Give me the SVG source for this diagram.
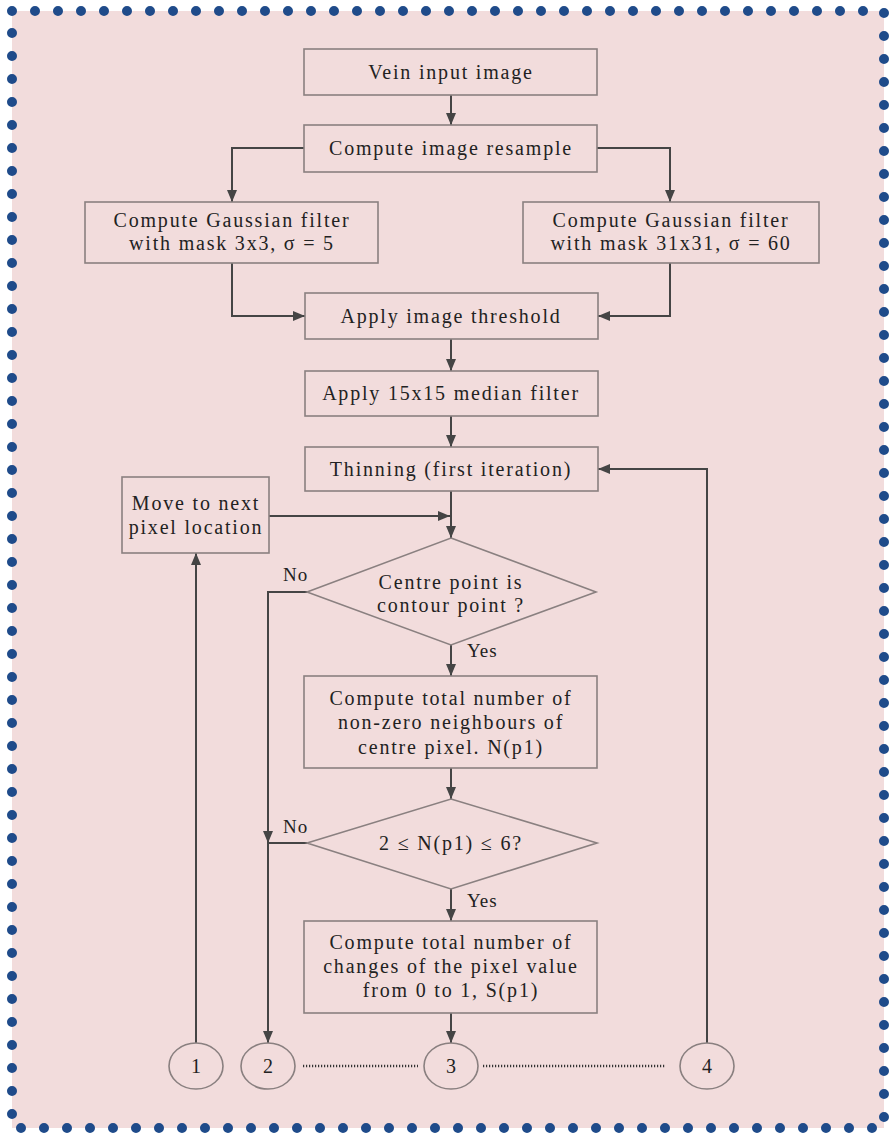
<svg xmlns="http://www.w3.org/2000/svg" width="889" height="1134" viewBox="0 0 889 1134">
  <defs>
    <marker id="arrow" markerUnits="userSpaceOnUse" markerWidth="12" markerHeight="12" viewBox="0 0 12 12" refX="12" refY="6" orient="auto">
      <path d="M0,1 L12,6 L0,11 Z" fill="#454545"/>
    </marker>
    <style>
      .box { fill: none; stroke: #8a8080; stroke-width: 1.6; }
      .lbl { font-family: "Liberation Serif", "Times New Roman", serif; font-size: 20px; letter-spacing: 1.8px; fill: #222; text-anchor: middle; }
      .tag { font-family: "Liberation Serif", "Times New Roman", serif; font-size: 19px; letter-spacing: 1px; fill: #222; }
      .conn { fill: none; stroke: #454545; stroke-width: 2; }
      .dotted { fill: none; stroke: #333; stroke-width: 2.5; stroke-dasharray: 1.2 1.8; }
    </style>
  </defs>

  <!-- page background with dotted border -->
  <rect x="0" y="0" width="889" height="1134" fill="#ffffff"/>
  <rect x="12" y="11" width="872" height="1117" fill="#f2dcdc"/>
  <rect x="12" y="11" width="872" height="1117" fill="none" stroke="#1f4b8a" stroke-width="10" stroke-linecap="round" stroke-dasharray="0 23"/>

  <!-- connectors -->
  <g id="connectors">
    <path class="conn" d="M451,95 V125" marker-end="url(#arrow)"/>
    <path class="conn" d="M304,148 H232 V202" marker-end="url(#arrow)"/>
    <path class="conn" d="M597,148 H670 V202" marker-end="url(#arrow)"/>
    <path class="conn" d="M232,263 V316 H305" marker-end="url(#arrow)"/>
    <path class="conn" d="M670,263 V316 H598" marker-end="url(#arrow)"/>
    <path class="conn" d="M451,339 V371" marker-end="url(#arrow)"/>
    <path class="conn" d="M451,416 V447" marker-end="url(#arrow)"/>
    <path class="conn" d="M451,491 V538" marker-end="url(#arrow)"/>
    <path class="conn" d="M269,516 H450" marker-end="url(#arrow)"/>
    <path class="conn" d="M196,1043 V553" marker-end="url(#arrow)"/>
    <path class="conn" d="M707,1043 V469 H598" marker-end="url(#arrow)"/>
    <path class="conn" d="M307,592 H268 V843" marker-end="url(#arrow)"/>
    <path class="conn" d="M307,843 H268"/>
    <path class="conn" d="M268,843 V1043" marker-end="url(#arrow)"/>
    <path class="conn" d="M451,645 V676" marker-end="url(#arrow)"/>
    <path class="conn" d="M451,768 V799" marker-end="url(#arrow)"/>
    <path class="conn" d="M451,889 V921" marker-end="url(#arrow)"/>
    <path class="conn" d="M451,1013 V1043" marker-end="url(#arrow)"/>
    <path class="dotted" d="M303,1066 H418"/>
    <path class="dotted" d="M483,1066 H666"/>
    <text class="tag" x="283" y="581">No</text>
    <text class="tag" x="283" y="833">No</text>
    <text class="tag" x="467" y="657">Yes</text>
    <text class="tag" x="467" y="907">Yes</text>
  </g>

  <g id="vein-input">
    <rect class="box" x="304" y="49" width="293" height="46"/>
    <text class="lbl" x="451" y="79">Vein input image</text>
  </g>
  <g id="resample">
    <rect class="box" x="304" y="125" width="293" height="47"/>
    <text class="lbl" x="451" y="155">Compute image resample</text>
  </g>
  <g id="gauss-small">
    <rect class="box" x="85" y="202" width="293" height="61"/>
    <text class="lbl" x="232" y="227">Compute Gaussian filter</text>
    <text class="lbl" x="232" y="250">with mask 3x3, σ = 5</text>
  </g>
  <g id="gauss-large">
    <rect class="box" x="523" y="202" width="296" height="61"/>
    <text class="lbl" x="671" y="227">Compute Gaussian filter</text>
    <text class="lbl" x="671" y="250">with mask 31x31, σ = 60</text>
  </g>
  <g id="threshold">
    <rect class="box" x="305" y="293" width="293" height="46"/>
    <text class="lbl" x="451" y="323">Apply image threshold</text>
  </g>
  <g id="median">
    <rect class="box" x="305" y="371" width="293" height="45"/>
    <text class="lbl" x="451" y="400">Apply 15x15 median filter</text>
  </g>
  <g id="thinning">
    <rect class="box" x="305" y="447" width="293" height="44"/>
    <text class="lbl" x="451" y="476">Thinning (first iteration)</text>
  </g>
  <g id="next-pixel">
    <rect class="box" x="122" y="477" width="147" height="76"/>
    <text class="lbl" x="196" y="510">Move to next</text>
    <text class="lbl" x="196" y="534">pixel location</text>
  </g>
  <g id="contour-check">
    <polygon class="box" points="451,538 596,592 451,645 307,592"/>
    <text class="lbl" x="451" y="589">Centre point is</text>
    <text class="lbl" x="451" y="612">contour point ?</text>
  </g>
  <g id="count-neighbours">
    <rect class="box" x="304" y="676" width="293" height="92"/>
    <text class="lbl" x="451" y="705">Compute total number of</text>
    <text class="lbl" x="451" y="729">non-zero neighbours of</text>
    <text class="lbl" x="451" y="754">centre pixel. N(p1)</text>
  </g>
  <g id="range-check">
    <polygon class="box" points="451,799 597,843 451,889 307,843"/>
    <text class="lbl" x="451" y="850">2 ≤ N(p1) ≤ 6?</text>
  </g>
  <g id="count-changes">
    <rect class="box" x="304" y="921" width="293" height="92"/>
    <text class="lbl" x="451" y="949">Compute total number of</text>
    <text class="lbl" x="451" y="973">changes of the pixel value</text>
    <text class="lbl" x="451" y="997">from 0 to 1, S(p1)</text>
  </g>
  <g id="connector-1">
    <ellipse class="box" cx="196" cy="1066" rx="27" ry="23"/>
    <text class="lbl" x="197" y="1073">1</text>
  </g>
  <g id="connector-2">
    <ellipse class="box" cx="268" cy="1066" rx="27" ry="23"/>
    <text class="lbl" x="269" y="1073">2</text>
  </g>
  <g id="connector-3">
    <ellipse class="box" cx="451" cy="1066" rx="27" ry="23"/>
    <text class="lbl" x="452" y="1073">3</text>
  </g>
  <g id="connector-4">
    <ellipse class="box" cx="707" cy="1066" rx="27" ry="23"/>
    <text class="lbl" x="708" y="1073">4</text>
  </g>
</svg>
